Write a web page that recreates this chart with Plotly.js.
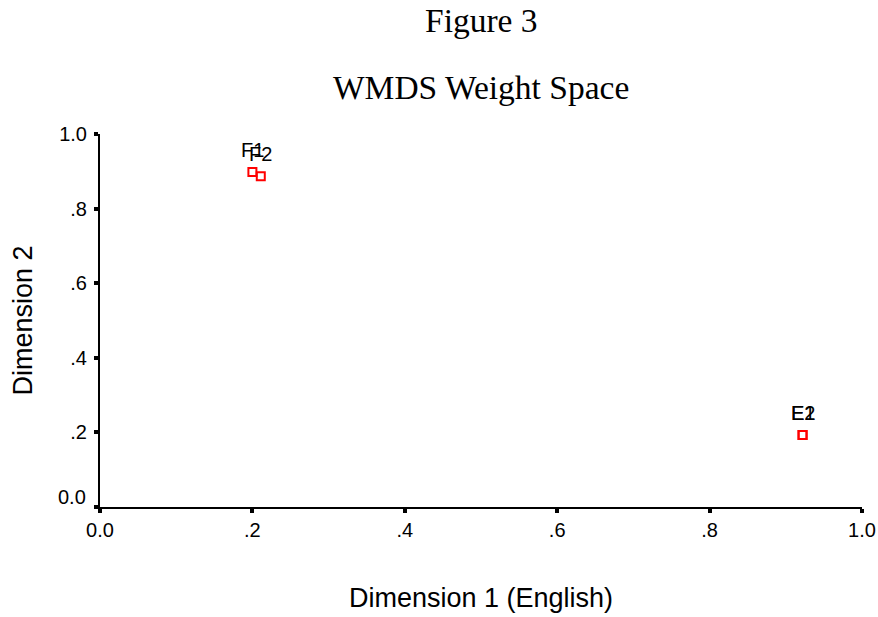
<!DOCTYPE html>
<html>
<head>
<meta charset="utf-8">
<script src="https://cdn.plot.ly/plotly-3.0.1.min.js"></script>
<style>html,body{margin:0;padding:0;background:#fff;}#chart{width:878px;height:617px;}</style>
</head>
<body>
<div id="chart"></div>
<script>
const labels = ["F1", "F2", "E1", "E2"];
const dim1 = [0.200, 0.211, 0.922, 0.922];
const dim2 = [0.898, 0.887, 0.193, 0.193];
const tickVals = [0, 0.2, 0.4, 0.6, 0.8, 1.0];
const xTickText = ["0.0", ".2", ".4", ".6", ".8", "1.0"];
const yTickText = ["", ".2", ".4", ".6", ".8", "1.0"];
const yZeroLabel = "0.0";

const sans = "Liberation Sans, Arial, sans-serif";
const serif = "Liberation Serif, Times New Roman, serif";

const trace = {
  x: dim1, y: dim2,
  mode: "markers",
  type: "scatter",
  marker: {symbol: "square-open", size: 8, color: "#ff0000", line: {width: 2, color: "#ff0000"}},
  cliponaxis: false,
  hoverinfo: "none"
};

const axisCommon = {
  range: [0, 1],
  tickvals: tickVals,
  ticks: "outside",
  ticklen: 4,
  tickwidth: 4,
  tickcolor: "#000",
  showline: true,
  linecolor: "#000",
  linewidth: 2,
  showgrid: false,
  zeroline: false,
  tickfont: {family: sans, size: 20, color: "#000"}
};

const pointLabels = labels.map((t, i) => ({
  text: t, x: dim1[i], y: dim2[i], xref: "x", yref: "y",
  showarrow: false, xanchor: "center", yanchor: "middle", yshift: 22,
  font: {family: sans, size: 20, color: "#000"}
}));

const layout = {
  width: 878, height: 617,
  margin: {l: 100, r: 16, t: 134, b: 110},
  paper_bgcolor: "#fff",
  plot_bgcolor: "#fff",
  showlegend: false,
  xaxis: Object.assign({}, axisCommon, {
    ticktext: xTickText,
    title: {text: "Dimension 1 (English)", standoff: 48, font: {family: sans, size: 27, color: "#000"}}
  }),
  yaxis: Object.assign({}, axisCommon, {
    ticktext: yTickText,
    ticklabelstandoff: 3,
    title: {text: "Dimension 2", standoff: 19, font: {family: sans, size: 27, color: "#000"}}
  }),
  annotations: [
    {text: "Figure 3", xref: "paper", yref: "paper", x: 0.5, y: 1, yshift: 114, xanchor: "center", yanchor: "middle", showarrow: false,
     font: {family: serif, size: 33.5, color: "#000"}},
    {text: "WMDS Weight Space", xref: "paper", yref: "paper", x: 0.5, y: 1, yshift: 47, xanchor: "center", yanchor: "middle", showarrow: false,
     font: {family: serif, size: 33.5, color: "#000"}},
    {text: yZeroLabel, xref: "paper", yref: "y", x: 0, y: 0, xshift: -12, yshift: 10, xanchor: "right", yanchor: "middle", showarrow: false,
     font: {family: sans, size: 20, color: "#000"}}
  ].concat(pointLabels)
};

Plotly.newPlot("chart", [trace], layout, {displayModeBar: false, staticPlot: true});
</script>
</body>
</html>
